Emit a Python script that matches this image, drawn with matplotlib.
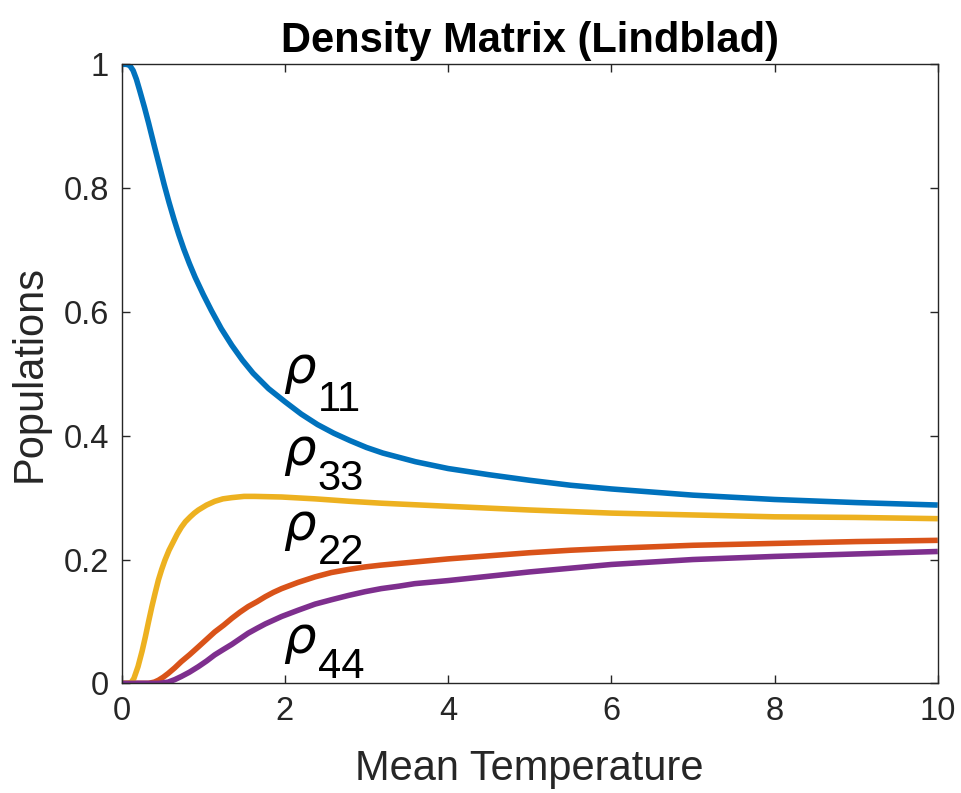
import matplotlib
matplotlib.use("Agg")
import matplotlib.pyplot as plt
from matplotlib.ticker import FormatStrFormatter

plt.rcParams['font.family'] = ['Liberation Sans', 'DejaVu Sans']
plt.rcParams['mathtext.fontset'] = 'dejavusans'

# ---- data ----
x11 = [0, 0.06, 0.10, 0.14, 0.18, 0.22, 0.28, 0.33, 0.40, 0.47, 0.52, 0.58, 0.64, 0.70, 0.76,
       0.83, 0.90, 1.0, 1.10, 1.22, 1.35, 1.48, 1.61, 1.8, 2.0, 2.2, 2.4, 2.6, 2.8, 3.0, 3.2,
       3.6, 4, 4.5, 5, 5.5, 6, 7, 8, 9, 10]
rho11 = [1.0, 1.0, 0.998, 0.99, 0.976, 0.958, 0.93, 0.905, 0.868, 0.832, 0.806, 0.777, 0.750,
         0.725, 0.702, 0.678, 0.656, 0.628, 0.602, 0.573, 0.546, 0.522, 0.501, 0.476, 0.455,
         0.435, 0.418, 0.404, 0.392, 0.381, 0.372, 0.358, 0.347, 0.337, 0.328, 0.320, 0.314,
         0.304, 0.297, 0.292, 0.288]

x33 = [0, 0.08, 0.12, 0.15, 0.20, 0.25, 0.29, 0.33, 0.37, 0.41, 0.45, 0.49, 0.53, 0.58, 0.63,
       0.68, 0.73, 0.78, 0.84, 0.89, 0.94, 1.04, 1.14, 1.24, 1.35, 1.5, 1.63, 1.96, 2.37, 2.8,
       3.18, 4, 5, 6, 7, 8, 9, 10]
rho33 = [0, 0, 0.002, 0.008, 0.027, 0.052, 0.075, 0.10, 0.124, 0.146, 0.167, 0.184, 0.199,
         0.215, 0.228, 0.241, 0.252, 0.261, 0.269, 0.275, 0.280, 0.288, 0.294, 0.298, 0.300,
         0.302, 0.302, 0.301, 0.298, 0.294, 0.291, 0.286, 0.280, 0.275, 0.272, 0.269, 0.268, 0.266]

x22 = [0, 0.33, 0.40, 0.45, 0.51, 0.57, 0.65, 0.73, 0.83, 0.94, 1.04, 1.14, 1.25, 1.35, 1.45,
       1.55, 1.66, 1.76, 1.86, 1.96, 2.16, 2.37, 2.57, 2.78, 2.98, 3.18, 3.59, 4, 4.5, 5, 5.5,
       6, 7, 8, 9, 10]
rho22 = [0, 0.0, 0.002, 0.005, 0.010, 0.016, 0.025, 0.035, 0.046, 0.059, 0.071, 0.083, 0.094,
         0.105, 0.115, 0.124, 0.132, 0.140, 0.147, 0.153, 0.163, 0.172, 0.179, 0.184, 0.188,
         0.191, 0.196, 0.201, 0.206, 0.211, 0.215, 0.218, 0.223, 0.226, 0.229, 0.231]

x44 = [0, 0.45, 0.51, 0.57, 0.65, 0.73, 0.83, 0.94, 1.04, 1.14, 1.25, 1.35, 1.45, 1.55, 1.66,
       1.76, 1.86, 1.96, 2.16, 2.37, 2.57, 2.78, 2.98, 3.18, 3.4, 3.59, 4, 4.5, 5, 5.5, 6, 7,
       8, 9, 10]
rho44 = [0, 0, 0.0008, 0.002, 0.006, 0.011, 0.018, 0.027, 0.036, 0.046, 0.055, 0.063, 0.072,
         0.081, 0.089, 0.096, 0.102, 0.108, 0.118, 0.128, 0.135, 0.142, 0.148, 0.153, 0.157,
         0.161, 0.166, 0.173, 0.180, 0.186, 0.192, 0.200, 0.205, 0.209, 0.213]

series = [(x11, rho11, '#0072BD'), (x22, rho22, '#D95319'),
          (x33, rho33, '#EDB120'), (x44, rho44, '#7E2F8E')]

label_subs = ['11', '33', '22', '44']
label_rho_y = [0.485, 0.353, 0.232, 0.049]
label_sub_y = [0.440, 0.312, 0.193, 0.009]
label_rho_x = 1.98
label_sub_x = 2.40

xticks = [0, 2, 4, 6, 8, 10]
yticks = [0, 0.2, 0.4, 0.6, 0.8, 1.0]

# ---- figure ----
fig = plt.figure(figsize=(9.62, 7.93), dpi=100)
ax = fig.add_axes([0.1265, 0.1383, 0.8483, 0.7806])

for xs, ys, c in series:
    ax.plot(xs, ys, color=c, lw=4.0, solid_joinstyle='round', solid_capstyle='butt')

ax.set_xlim(0, 10)
ax.set_ylim(0, 1)
ax.set_xticks(xticks)
ax.set_yticks(yticks)
ax.yaxis.set_major_formatter(FormatStrFormatter('%g'))
ax.xaxis.set_major_formatter(FormatStrFormatter('%g'))

axcol = '#262626'
for s in ax.spines.values():
    s.set_color(axcol)
    s.set_linewidth(1.0)
ax.tick_params(direction='in', length=5.5, width=1.0, colors=axcol,
               labelsize=23.5, top=True, right=True, pad=9)
for lab in ax.get_xticklabels() + ax.get_yticklabels():
    lab.set_color(axcol)

ax.set_xlabel('Mean Temperature', fontsize=30, color=axcol, labelpad=16)
ax.set_ylabel('Populations', fontsize=30, color=axcol, labelpad=10)
ax.set_title('Density Matrix (Lindblad)', fontsize=30, fontweight='bold', color='black', pad=9)

for sub, ry, sy in zip(label_subs, label_rho_y, label_sub_y):
    ax.text(label_rho_x, ry, r'$\rho$', fontsize=37, color='black', ha='left', va='baseline')
    ax.text(label_sub_x, sy, sub, fontsize=30, color='black', ha='left', va='baseline')

fig.savefig('out.png', dpi=100)
